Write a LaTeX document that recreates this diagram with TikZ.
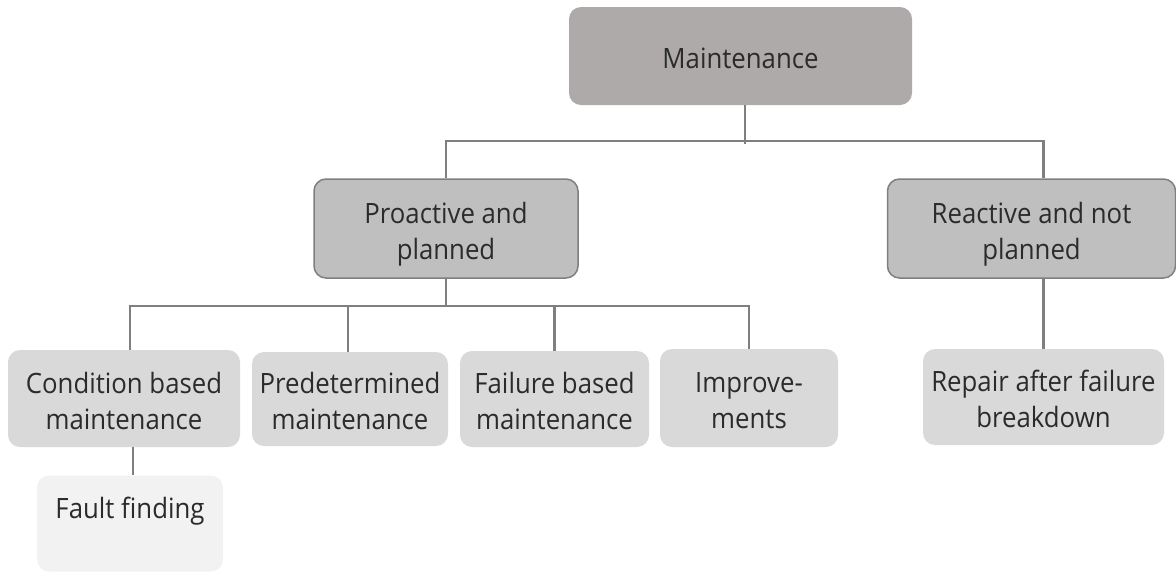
\documentclass[tikz,border=0pt]{standalone}
\usepackage{fontspec}
\setmainfont{Open Sans}[FakeStretch=0.92]
\usepackage{xcolor}
\usepackage{tikz}

\definecolor{topgray}{HTML}{AEAAAA}
\definecolor{midgray}{HTML}{BFBFBF}
\definecolor{leafgray}{HTML}{D9D9D9}
\definecolor{palegray}{HTML}{F2F2F2}
\definecolor{linegray}{HTML}{7F7F7F}
\definecolor{textgray}{HTML}{2B2B2B}

\begin{document}
\begin{tikzpicture}[x=1pt,y=1pt,
  % two text lines, 36pt apart
  box/.style={rounded corners=12pt, inner sep=0pt, align=center, text=textgray,
    text height=61pt, text depth=0pt, font=\fontsize{28}{36}\selectfont},
  topbox/.style={box, fill=topgray, text height=25pt},
  midbox/.style={box, fill=midgray, draw=linegray, line width=1.5pt},
  leafbox/.style={box, fill=leafgray},
  link/.style={draw=linegray, line width=2.2pt}]
\useasboundingbox (0,0) rectangle (1176,-571);

% top level
\node[topbox, minimum width=343, minimum height=98] (maint) at (740.5,-56) {Maintenance};

% second level
\node[midbox, minimum width=264, minimum height=99] (pro) at (446,-228.5) {Proactive and\\planned};
\node[midbox, minimum width=288, minimum height=99] (rea) at (1031.5,-228.5) {Reactive and not\\planned};

% leaves
\node[leafbox, minimum width=232, minimum height=97] (cond) at (124,-398.5) {Condition based\\maintenance};
\node[leafbox, minimum width=196, minimum height=94] (pred) at (350,-399) {Predetermined\\maintenance};
\node[leafbox, minimum width=189, minimum height=96] (fail) at (554.5,-399) {Failure based\\maintenance};
\node[leafbox, minimum width=178, minimum height=98] (impr) at (749,-398) {Improve-\\ments};
\node[leafbox, minimum width=241, minimum height=96] (rep) at (1043.5,-397) {Repair after failure\\breakdown};
\node[box, fill=palegray, minimum width=186, minimum height=96] (fault) at (130,-523.5) {Fault finding\\\strut};

% connectors
\coordinate (bus1) at (745,-141);
\coordinate (bus2) at (446,-306);
\draw[link] ([xshift=4.5]maint.south) -- ([yshift=-3]bus1);
\draw[link] (pro.north) |- (bus1) -| (rea.north -| rep.north);
\draw[link] (rea.south -| rep.north) -- (rep.north);
\draw[link] (pro.south) -- (bus2);
\draw[link] ([xshift=6]cond.north) |- (bus2 -| impr.north) -- (impr.north);
\draw[link] ([xshift=-2]pred.north) -- ([xshift=-2]pred.north |- bus2);
\draw[link] (fail.north) -- (fail.north |- bus2);
\draw[link] ([xshift=9]cond.south) -- ([xshift=3]fault.north);
\end{tikzpicture}
\end{document}
